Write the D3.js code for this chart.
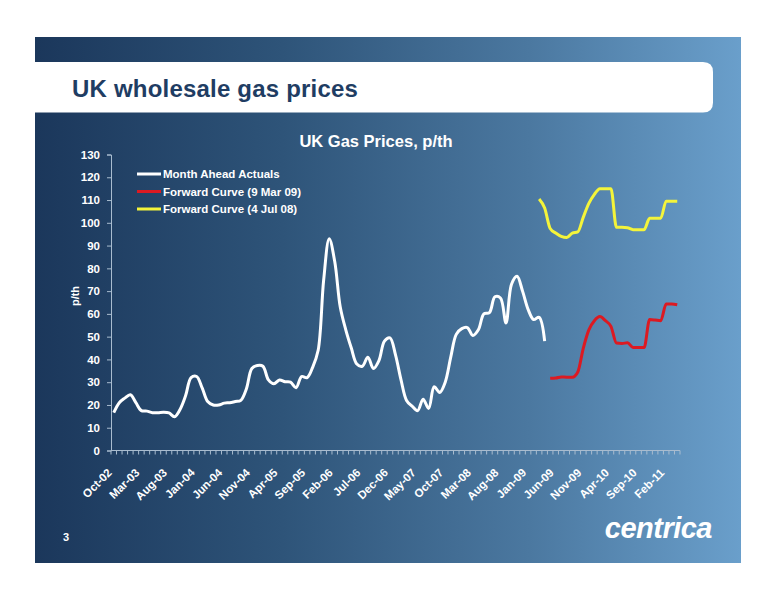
<!DOCTYPE html>
<html><head><meta charset="utf-8">
<script src="https://cdn.jsdelivr.net/npm/d3@7"></script>
<style>html,body{margin:0;padding:0;background:#fff;}svg{display:block;}</style>
</head><body>
<script>
// ---- data ----
const firstMonth = "Oct-02", lastMonth = "Apr-11";
const tickLabels = ["Oct-02","Mar-03","Aug-03","Jan-04","Jun-04","Nov-04","Apr-05","Sep-05","Feb-06","Jul-06","Dec-06","May-07","Oct-07","Mar-08","Aug-08","Jan-09","Jun-09","Nov-09","Apr-10","Sep-10","Feb-11"];
const yTicks = [0,10,20,30,40,50,60,70,80,90,100,110,120,130];
const seriesNames = ["Month Ahead Actuals","Forward Curve (9 Mar 09)","Forward Curve (4 Jul 08)"];
const actualStart = "Oct-02";
const actualValues = [16.6,21,23,24.5,21,17.5,17.3,16.6,16.6,16.8,16.5,14.8,18,24,32,32.5,27.5,21.5,20,20,
  20.8,21,21.5,22,27,36,37.3,37,31,29.3,31,30.2,30,27.6,32.5,32,36.5,44,75,93,
  83,63,53,45,38,37,41,36,39.5,48,49.5,42,31,22,19.5,17.5,22.5,18.5,28,25.5,
  30,41,51,53.5,54,50.5,53,60,60.5,67.5,67,56,73,76.5,70,62,57.5,58.5,48];
const fwdMarStart = "May-09";
const fwdMarValues = [31.7,31.8,32.3,32.2,32.2,34.5,45,53,57,58.8,57,54.5,47.2,47,47.3,45.2,45.2,45.2,57.5,57.3,57,64.3,64.3,64];
const fwdJulStart = "Mar-09";
const fwdJulValues = [110.5,106.5,97.5,95.5,94,93.5,95.5,96,102.5,108.5,112.5,115,115,115,98,98,97.8,97,97,97,102,102,102,109.5,109.5,109.5];

// ---- setup ----
const W = 776, H = 600;
const fmt = d3.timeFormat("%b-%y"), parse = d3.timeParse("%b-%y");
const months = d3.timeMonth.range(parse(firstMonth), d3.timeMonth.offset(parse(lastMonth),1)).map(fmt);

const svg = d3.select("body").append("svg").attr("width", W).attr("height", H);
const defs = svg.append("defs");
const grad = defs.append("linearGradient").attr("id","bg").attr("x1","0").attr("x2","1").attr("y1","0").attr("y2","0");
grad.append("stop").attr("offset","0%").attr("stop-color","#1b375b");
grad.append("stop").attr("offset","35%").attr("stop-color","#2e5479");
grad.append("stop").attr("offset","70%").attr("stop-color","#4b78a0");
grad.append("stop").attr("offset","100%").attr("stop-color","#6a9fcb");

const font = "Liberation Sans, Arial, sans-serif";
svg.append("rect").attr("x",35).attr("y",37).attr("width",706).attr("height",526).attr("fill","url(#bg)");
// white title banner with rounded right end
svg.append("path").attr("d","M35,62 H703 Q713,62 713,72 V102.5 Q713,112.5 703,112.5 H35 Z").attr("fill","#fff");
svg.append("text").attr("x",72).attr("y",97).attr("font-family",font).attr("letter-spacing",0.2)
  .attr("font-weight","bold").attr("font-size",24).attr("fill","#1f3d63").text("UK wholesale gas prices");

svg.append("text").attr("x",376).attr("y",147).attr("text-anchor","middle").attr("font-family",font)
  .attr("font-weight","bold").attr("font-size",16.5).attr("fill","#fff").text("UK Gas Prices, p/th");

const x = d3.scaleBand().domain(months).range([111, 680]);
const y = d3.scaleLinear().domain([0,130]).range([450.5,154.5]);
const axisColor = "#a9bccf";

// y axis
const ya = svg.append("g").attr("transform","translate(111,0)")
  .call(d3.axisLeft(y).tickValues(yTicks).tickSize(4).tickPadding(7));
ya.select(".domain").attr("stroke",axisColor);
ya.selectAll(".tick line").attr("stroke",axisColor);
ya.selectAll(".tick text").attr("fill","#fff").attr("font-family",font).attr("font-weight","bold").attr("font-size",11.5);

svg.append("text").attr("transform","translate(79,296) rotate(-90)").attr("text-anchor","middle")
  .attr("font-family",font).attr("font-weight","bold").attr("font-size",11).attr("fill","#fff").text("p/th");

// x axis
const xg = svg.append("g").attr("transform","translate(0,450.5)");
xg.append("line").attr("x1",x.range()[0]).attr("x2",x.range()[1]).attr("stroke",axisColor);
const bounds = months.map(m => x(m)).concat([x.range()[1]]);
xg.selectAll("line.tk").data(bounds).join("line").attr("class","tk")
  .attr("x1",d=>d).attr("x2",d=>d).attr("y1",0).attr("y2",4).attr("stroke",axisColor);
xg.selectAll("text").data(tickLabels).join("text")
  .attr("transform", d => `translate(${x(d)+x.bandwidth()/2-4},${20}) rotate(-45)`)
  .attr("text-anchor","end").attr("dy","0.35em")
  .attr("font-family",font).attr("font-weight","bold").attr("font-size",11.5).attr("fill","#fff").text(d=>d);

// lines
function pts(start, vals){ const s = months.indexOf(start); return vals.map((v,i)=>({m:months[s+i], v})); }
const line = d3.line().x(d=>x(d.m)+x.bandwidth()/2).y(d=>y(d.v));
svg.append("path").datum(pts(actualStart, actualValues)).attr("d", line.curve(d3.curveCatmullRom.alpha(0.5)))
  .attr("fill","none").attr("stroke","#fff").attr("stroke-width",3).attr("stroke-linejoin","round");
const line2 = d3.line().x(d=>x(d.m)+x.bandwidth()/2).y(d=>y(d.v)).curve(d3.curveMonotoneX);
svg.append("path").datum(pts(fwdJulStart, fwdJulValues)).attr("d", line2)
  .attr("fill","none").attr("stroke","#f4f43a").attr("stroke-width",3).attr("stroke-linejoin","round");
svg.append("path").datum(pts(fwdMarStart, fwdMarValues)).attr("d", line2)
  .attr("fill","none").attr("stroke","#dc1a22").attr("stroke-width",3).attr("stroke-linejoin","round");

// legend
const legColors = ["#fff","#dc1a22","#f4f43a"];
const lg = svg.append("g");
seriesNames.forEach((n,i)=>{
  const yy = 174 + i*17.5;
  lg.append("line").attr("x1",137).attr("x2",161).attr("y1",yy).attr("y2",yy).attr("stroke",legColors[i]).attr("stroke-width",3);
  lg.append("text").attr("x",163).attr("y",yy).attr("dy","0.35em").attr("font-family",font)
    .attr("font-weight","bold").attr("font-size",11.5).attr("fill","#fff").text(n);
});

// footer
svg.append("text").attr("x",63).attr("y",541).attr("font-family",font).attr("font-weight","bold")
  .attr("font-size",11).attr("fill","#fff").text("3");
svg.append("text").attr("x",712).attr("y",538).attr("text-anchor","end").attr("font-family",font)
  .attr("font-weight","bold").attr("font-style","italic").attr("font-size",29).attr("letter-spacing",-0.5)
  .attr("fill","#fff").text("centrica");
</script>
</body></html>
